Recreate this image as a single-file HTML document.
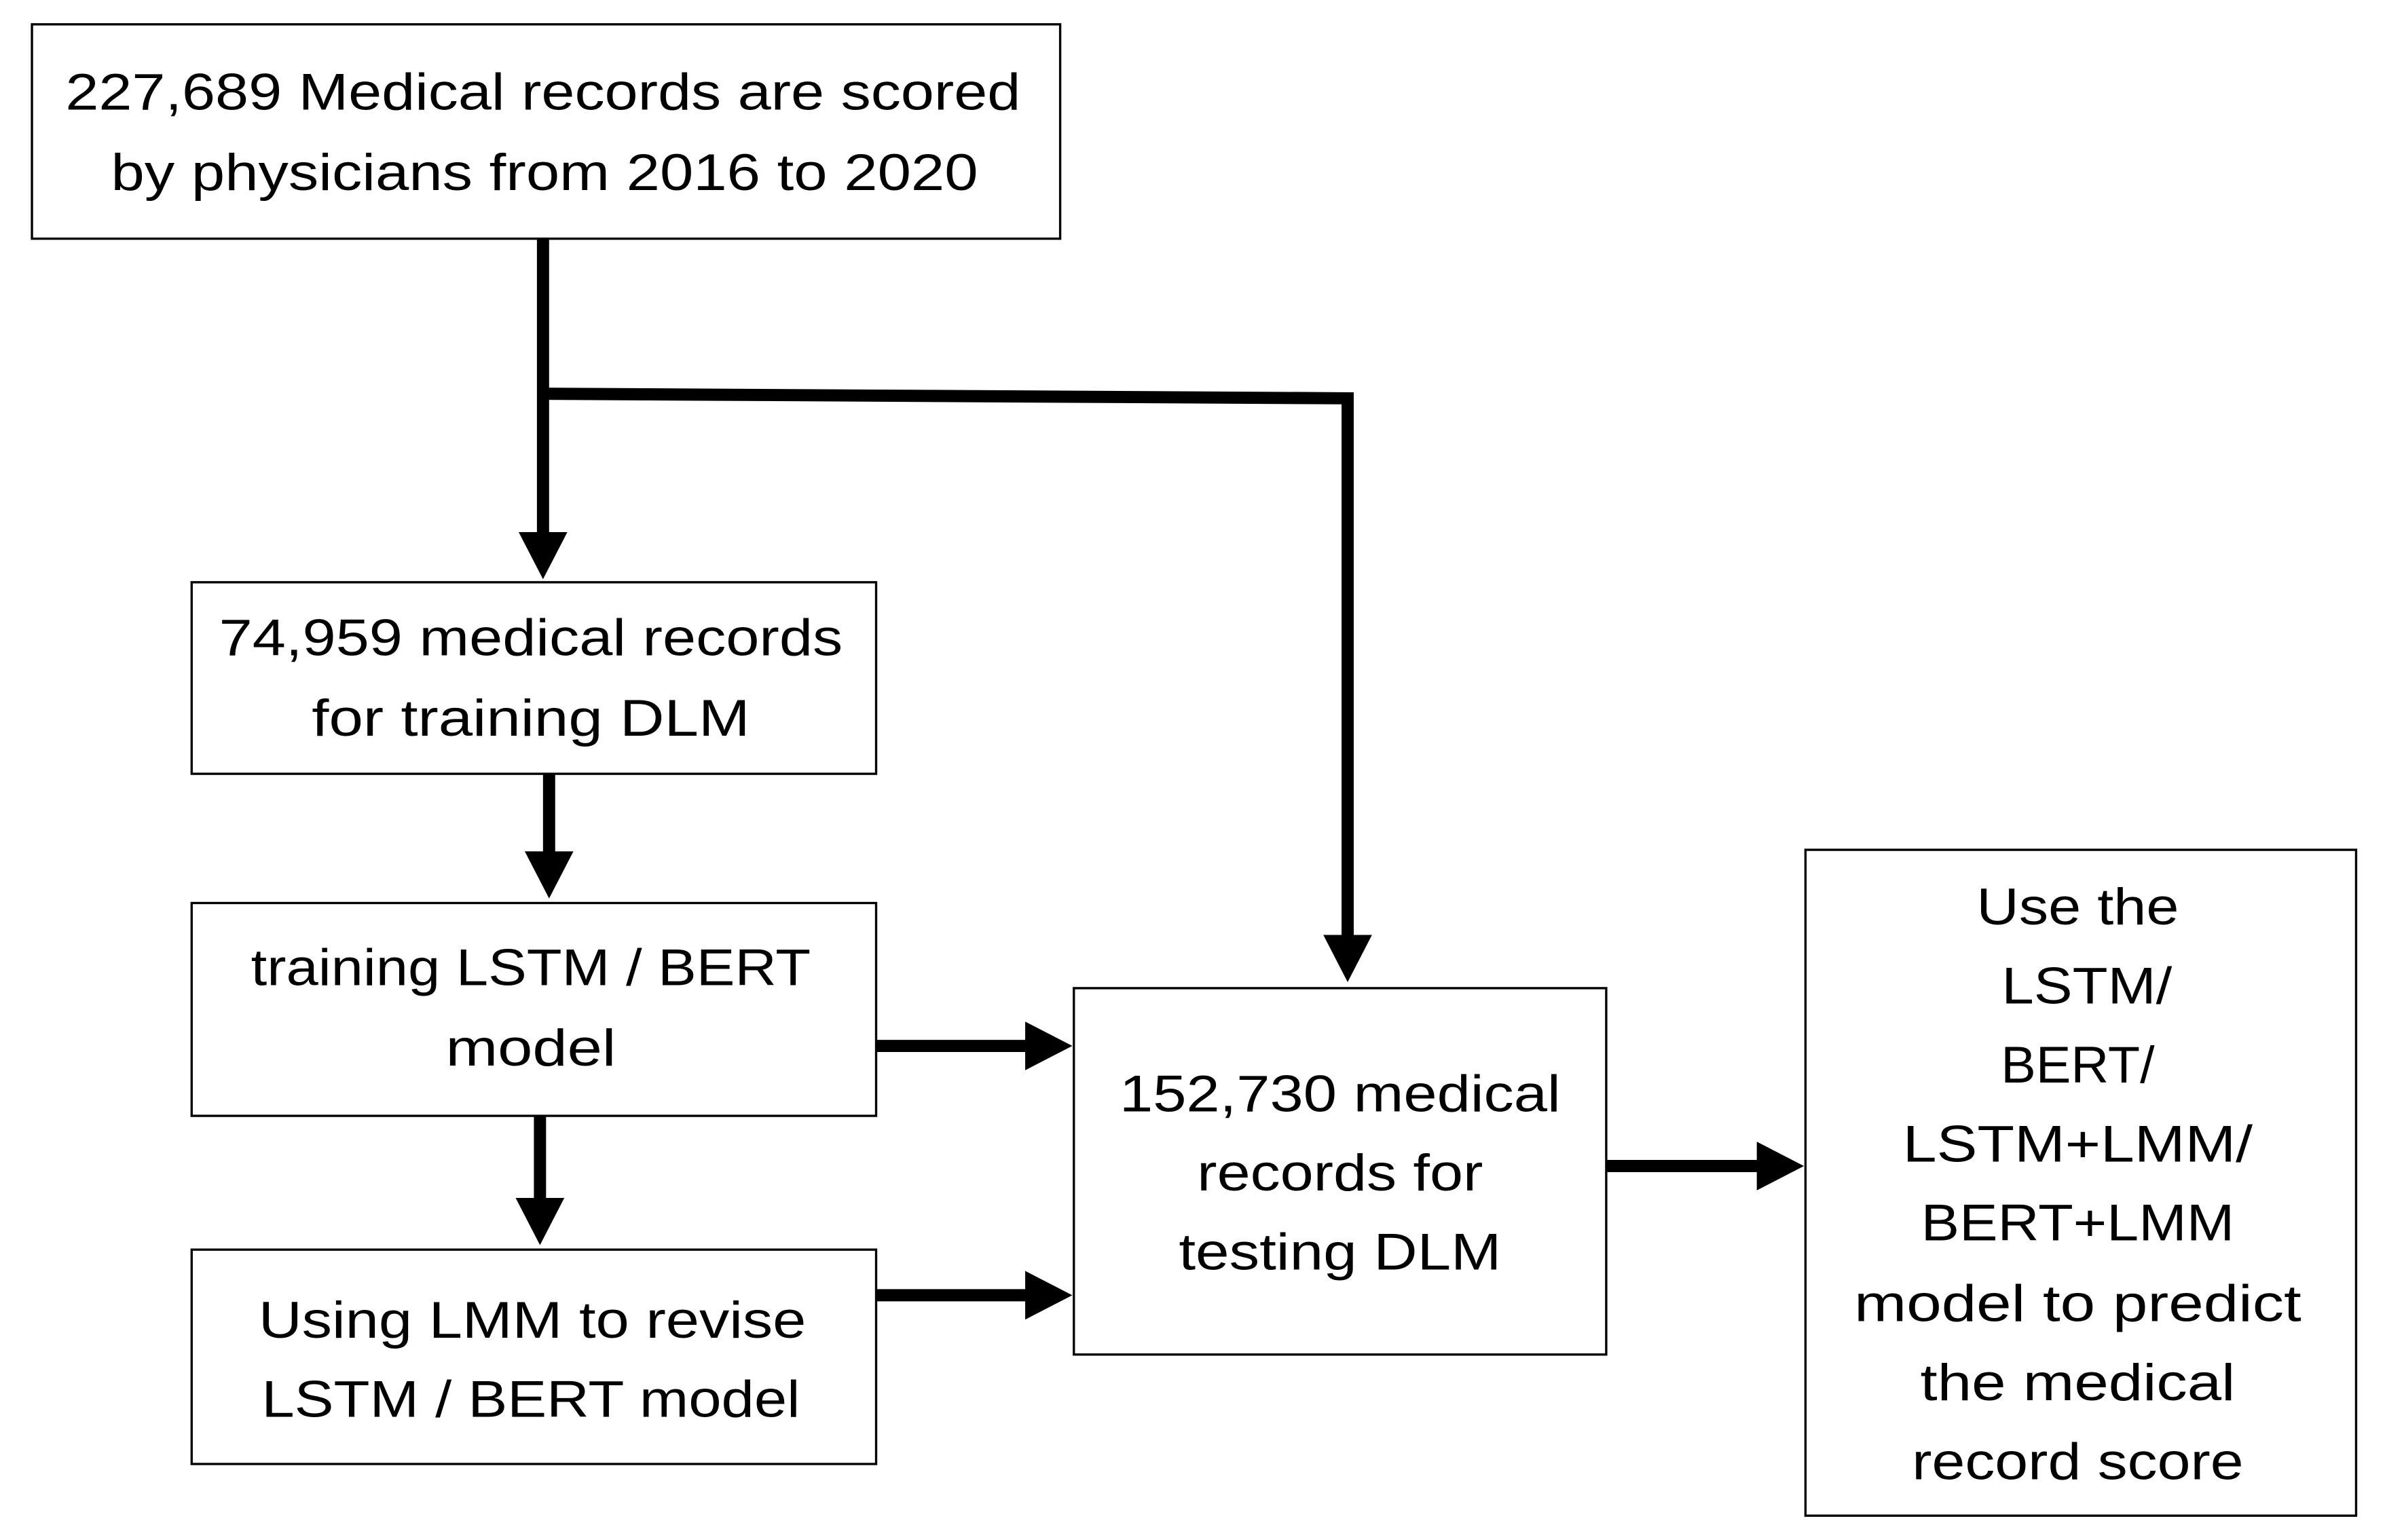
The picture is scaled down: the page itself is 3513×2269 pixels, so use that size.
<!DOCTYPE html>
<html><head><meta charset="utf-8"><style>html,body{margin:0;padding:0;background:#fff}svg{display:block}</style></head>
<body>
<svg width="3513" height="2269" viewBox="0 0 1568 1013" preserveAspectRatio="none" xmlns="http://www.w3.org/2000/svg">
<g fill="none" stroke="#000" stroke-width="1.5">
<rect x="21" y="16" width="676" height="141"/>
<rect x="126" y="383" width="450" height="126"/>
<rect x="126" y="594" width="450" height="140"/>
<rect x="126" y="822" width="450" height="141"/>
<rect x="706" y="650" width="350" height="241"/>
<rect x="1187" y="559" width="362" height="438"/>
</g>
<g stroke="#000" stroke-width="8" fill="none">
<path d="M357 157 V352"/>
<path d="M357 259 L886 262 V617"/>
<path d="M361 509 V562"/>
<path d="M355 734 V790"/>
<path d="M576 688 H676"/>
<path d="M576 852 H676"/>
<path d="M1056 767 H1157"/>
</g>
<g fill="#000">
<polygon points="341,350 373,350 357,381"/>
<polygon points="870,615 902,615 886,646"/>
<polygon points="345,560 377,560 361,591"/>
<polygon points="339,788 371,788 355,819"/>
<polygon points="674,672 674,704 705,688"/>
<polygon points="674,836 674,868 705,852"/>
<polygon points="1155,751 1155,783 1186,767"/>
</g>
<g font-family="'Liberation Sans',sans-serif" font-size="34" text-anchor="middle" fill="#000" lengthAdjust="spacingAndGlyphs">
<text x="357" y="72" textLength="628" lengthAdjust="spacingAndGlyphs">227,689 Medical records are scored</text>
<text x="358" y="125" textLength="570" lengthAdjust="spacingAndGlyphs">by physicians from 2016 to 2020</text>
<text x="349" y="431" textLength="410" lengthAdjust="spacingAndGlyphs">74,959 medical records</text>
<text x="349" y="484" textLength="288" lengthAdjust="spacingAndGlyphs">for training DLM</text>
<text x="349" y="648" textLength="368" lengthAdjust="spacingAndGlyphs">training LSTM / BERT</text>
<text x="349" y="701" textLength="112" lengthAdjust="spacingAndGlyphs">model</text>
<text x="350" y="880" textLength="360" lengthAdjust="spacingAndGlyphs">Using LMM to revise</text>
<text x="349" y="932" textLength="354" lengthAdjust="spacingAndGlyphs">LSTM / BERT  model</text>
<text x="881" y="731" textLength="290" lengthAdjust="spacingAndGlyphs">152,730 medical</text>
<text x="881" y="783" textLength="188" lengthAdjust="spacingAndGlyphs">records for</text>
<text x="881" y="835" textLength="212" lengthAdjust="spacingAndGlyphs">testing DLM</text>
<text x="1366" y="608" textLength="133" lengthAdjust="spacingAndGlyphs">Use the</text>
<text x="1372" y="660" textLength="112" lengthAdjust="spacingAndGlyphs">LSTM/</text>
<text x="1366" y="712" textLength="101" lengthAdjust="spacingAndGlyphs">BERT/</text>
<text x="1366" y="764" textLength="230" lengthAdjust="spacingAndGlyphs">LSTM+LMM/</text>
<text x="1366" y="816" textLength="206" lengthAdjust="spacingAndGlyphs">BERT+LMM</text>
<text x="1366" y="869" textLength="294" lengthAdjust="spacingAndGlyphs">model to predict</text>
<text x="1366" y="921" textLength="207" lengthAdjust="spacingAndGlyphs">the medical</text>
<text x="1366" y="973" textLength="218" lengthAdjust="spacingAndGlyphs">record score</text>
</g>
</svg>
</body></html>
